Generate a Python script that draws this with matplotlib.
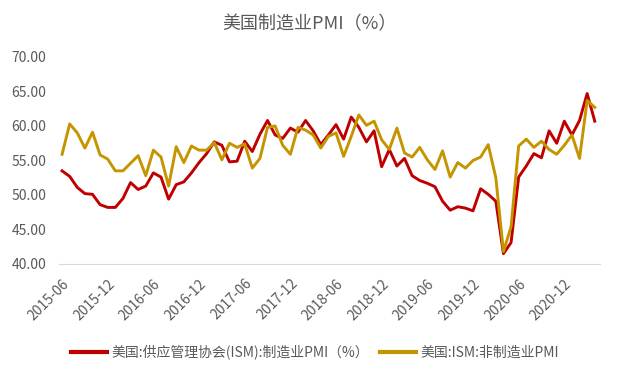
import matplotlib
matplotlib.use("Agg")
import matplotlib.pyplot as plt

plt.rcParams['font.family'] = ['Noto Sans CJK SC', 'DejaVu Sans']

# monthly, 2015-06 .. 2021-04
months = []
for y in range(2015, 2022):
    for m in range(1, 13):
        if (y, m) >= (2015, 6) and (y, m) <= (2021, 4):
            months.append("%d-%02d" % (y, m))

ism_mfg = [53.5, 52.7, 51.1, 50.2, 50.1, 48.6, 48.2,
           48.2, 49.5, 51.8, 50.8, 51.3, 53.2, 52.6, 49.4, 51.5, 51.9, 53.2, 54.7,
           56.0, 57.7, 57.2, 54.8, 54.9, 57.8, 56.3, 58.8, 60.8, 58.7, 58.2, 59.7,
           59.1, 60.8, 59.3, 57.3, 58.7, 60.2, 58.1, 61.3, 59.8, 57.7, 59.3, 54.1,
           56.6, 54.2, 55.3, 52.8, 52.1, 51.7, 51.2, 49.1, 47.8, 48.3, 48.1, 47.7,
           50.9, 50.1, 49.1, 41.5, 43.1, 52.6, 54.2, 56.0, 55.4, 59.3, 57.5, 60.7,
           58.7, 60.8, 64.7, 60.7]

ism_nonmfg = [55.9, 60.3, 59.0, 56.8, 59.1, 55.8, 55.2,
              53.5, 53.5, 54.6, 55.7, 52.8, 56.5, 55.5, 51.3, 57.0, 54.7, 57.1, 56.5,
              56.5, 57.6, 55.1, 57.5, 56.9, 57.4, 53.9, 55.3, 59.8, 60.0, 57.2, 55.9,
              59.8, 59.4, 58.7, 56.8, 58.5, 59.0, 55.6, 58.5, 61.6, 60.1, 60.7, 58.0,
              56.6, 59.7, 56.1, 55.5, 56.9, 55.1, 53.7, 56.4, 52.6, 54.7, 53.9, 55.0,
              55.5, 57.3, 52.5, 41.8, 45.4, 57.1, 58.1, 56.9, 57.8, 56.6, 55.9, 57.2,
              58.7, 55.3, 63.7, 62.7]

label_mfg = "美国:供应管理协会(ISM):制造业PMI（%）"
label_nonmfg = "美国:ISM:非制造业PMI"
title = "美国制造业PMI（%）"

grey = "#595959"

fig = plt.figure(figsize=(6.18, 3.75), dpi=100)
ax = fig.add_axes([0.0955, 0.296, 0.8755, 0.552])

x = list(range(len(months)))
ax.plot(x, ism_mfg, color="#C00000", lw=2.1, label=label_mfg)
ax.plot(x, ism_nonmfg, color="#C49500", lw=2.1, label=label_nonmfg)

ax.set_ylim(40, 70)
ax.set_yticks([40, 45, 50, 55, 60, 65, 70])
ax.set_yticklabels(["%.2f" % v for v in [40, 45, 50, 55, 60, 65, 70]])
ax.set_xlim(-0.4, 70.7)
ticks = list(range(0, len(months), 6))
ax.set_xticks(ticks)
ax.set_xticklabels([months[i] for i in ticks], rotation=45, ha="right",
                   rotation_mode="anchor")

for s in ["top", "right", "left"]:
    ax.spines[s].set_visible(False)
ax.spines["bottom"].set_color("#D9D9D9")
ax.tick_params(axis="both", length=0, colors=grey, labelsize=10)
ax.tick_params(axis="x", pad=9)
ax.tick_params(axis="y", pad=9)

fig.text(0.5, 0.935, title, ha="center", va="center", fontsize=13, color=grey)
fig.legend(loc="center", bbox_to_anchor=(0.51, 0.061), ncol=2, frameon=False,
           fontsize=10, handlelength=2.6, columnspacing=0.8, handletextpad=0.3,
           labelcolor=grey)
leg = fig.legends[0]
for h in leg.get_lines():
    h.set_linewidth(3)

fig.savefig("out.png", dpi=100)
